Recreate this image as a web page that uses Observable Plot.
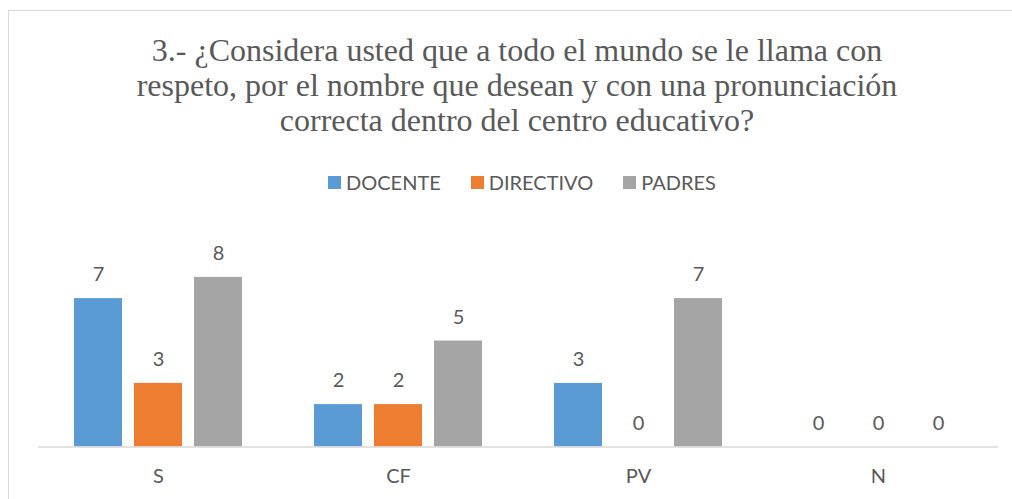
<!DOCTYPE html>
<html>
<head>
<meta charset="utf-8">
<script src="https://cdn.jsdelivr.net/npm/d3@7"></script>
<script src="https://cdn.jsdelivr.net/npm/@observablehq/plot@0.6"></script>
<style>
  html, body { margin: 0; padding: 0; background: #fff; overflow: hidden; width: 1012px; height: 499px; }
  #wrap { position: relative; width: 1012px; height: 499px; }
  #border { position: absolute; left: 8px; top: 10px; width: 1100px; height: 600px; border: 1.5px solid #d9d9d9; box-sizing: border-box; }
  #title { position: absolute; left: 11px; top: 33px; width: 1012px; text-align: center; font-family: "Liberation Serif", "Times New Roman", serif; font-size: 32px; line-height: 35px; color: #595959; }
  #title div { white-space: nowrap; }
  #legend { position: absolute; left: 328px; top: 170px; display: flex; align-items: center; font-family: Lato, sans-serif; font-size: 20px; color: #595959; }
  .item { display: flex; align-items: center; margin-right: 30px; }
  .sw { width: 13px; height: 13px; margin-right: 5px; }
  #chart { position: absolute; left: 0; top: 200px; }
</style>
</head>
<body>
<div id="wrap">
  <div id="border"></div>
  <div id="title"></div>
  <div id="legend"></div>
  <div id="chart"></div>
</div>
<script>
const titleLines = [
  "3.- ¿Considera usted que a todo el mundo se le llama con",
  "respeto, por el nombre que desean y con una pronunciación",
  "correcta dentro del centro educativo?"
];
const categories = ["S", "CF", "PV", "N"];
const series = ["DOCENTE", "DIRECTIVO", "PADRES"];
const docente = [7, 2, 3, 0];
const directivo = [3, 2, 0, 0];
const padres = [8, 5, 7, 0];
const colors = ["#5B9BD5", "#ED7D31", "#A5A5A5"];

const values = [docente, directivo, padres];
const rows = [];
categories.forEach((c, i) => {
  series.forEach((s, j) => rows.push({cat: c, series: s, value: values[j][i]}));
});

const title = document.getElementById("title");
titleLines.forEach(t => { const d = document.createElement("div"); d.textContent = t; title.appendChild(d); });

const legend = document.getElementById("legend");
series.forEach((s, j) => {
  const it = document.createElement("div"); it.className = "item";
  const sw = document.createElement("div"); sw.className = "sw"; sw.style.background = colors[j];
  const tx = document.createElement("span"); tx.textContent = s;
  it.appendChild(sw); it.appendChild(tx); legend.appendChild(it);
});

const chart = Plot.plot({
  width: 1012,
  height: 299,
  marginTop: 55.7,
  marginBottom: 52.5,
  marginLeft: 38,
  marginRight: 14,
  style: {fontFamily: "Lato, sans-serif", fontSize: "20px", color: "#595959", background: "transparent"},
  fx: {domain: categories, paddingInner: 0, paddingOuter: 0, round: false, label: null, axis: "bottom", tickSize: 0, tickPadding: 22},
  x: {domain: series, paddingInner: 0.2, paddingOuter: 0.6, round: false, axis: null},
  y: {domain: [0, 9], axis: null},
  color: {domain: series, range: colors},
  marks: [
    Plot.barY(rows, {fx: "cat", x: "series", y: "value", fill: "series"}),
    Plot.ruleY([0], {stroke: "#d9d9d9", strokeWidth: 1.3}),
    Plot.text(rows, {fx: "cat", x: "series", y: "value", text: d => String(d.value), lineAnchor: "bottom", dy: -17.5, fontSize: 20, fill: "#595959"})
  ]
});
document.getElementById("chart").appendChild(chart);
</script>
</body>
</html>
